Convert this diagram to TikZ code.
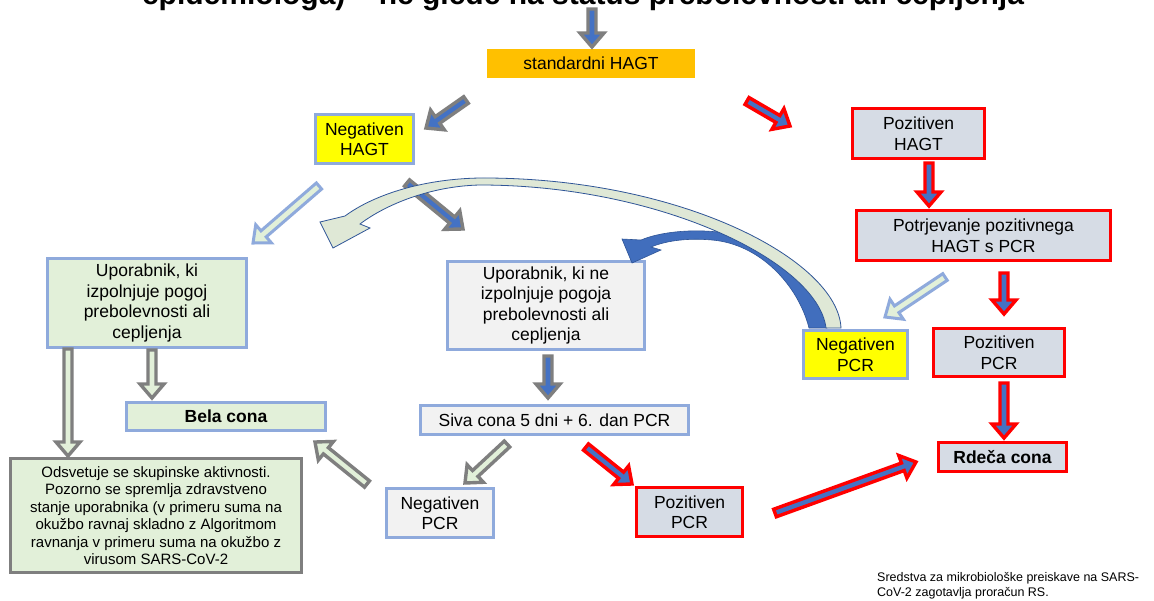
\documentclass[tikz,border=0pt]{standalone}
\usepackage{fontspec}
\setmainfont{Liberation Sans}
\usetikzlibrary{calc}
\definecolor{orng}{HTML}{FFC000}
\definecolor{ylw}{HTML}{FFFF00}
\definecolor{lblue}{HTML}{8FAADC}
\definecolor{rd}{HTML}{FF0000}
\definecolor{redfill}{HTML}{D6DCE5}
\definecolor{grnfill}{HTML}{E2F0D9}
\definecolor{gryfill}{HTML}{F2F2F2}
\definecolor{dgray}{HTML}{7F7F7F}
\definecolor{mblue}{HTML}{4472C4}
\definecolor{nblue}{HTML}{2F5597}
\definecolor{palegrn}{HTML}{DFE8D6}
\newcommand{\blockarrow}[3][]{%
  \coordinate (bh) at ($(#3)!14pt!(#2)$);
  \path[#1] ($(#2)!4pt!90:(#3)$) -- ($(bh)!4pt!90:(#3)$) -- ($(bh)!12pt!90:(#3)$) -- (#3)
    -- ($(bh)!12pt!-90:(#3)$) -- ($(bh)!4pt!-90:(#3)$) -- ($(#2)!4pt!-90:(#3)$) -- cycle;}
\tikzset{
  bx/.style={inner sep=0pt, align=center, font=\fontsize{17.5}{20.5}\selectfont, line width=3pt},
  bluebox/.style={bx, draw=lblue},
  redbox/.style={bx, draw=rd, fill=redfill},
  gb/.style={draw=dgray, fill=mblue, line width=3.4pt},
  rb/.style={draw=rd, fill=mblue, line width=3.4pt},
  pl/.style={draw=lblue, fill=grnfill, line width=3pt},
  pg/.style={draw=dgray, fill=grnfill, line width=3.4pt},
}
\begin{document}
\begin{tikzpicture}[x=1pt,y=-1pt]
\useasboundingbox (0,0) rectangle (1154,600);
\clip (0,0) rectangle (1154,600);
\fill[white] (0,0) rectangle (1154,600);
% title, cut off at the top edge as in the reference
\node[anchor=base, inner sep=0pt, font=\bfseries\fontsize{30}{34}\selectfont] (title) at (583,4.5) {epidemiologa) – ne glede na status prebolevnosti ali cepljenja};
% boxes
\node[bx, fill=orng, minimum width=208pt, minimum height=29pt] (std) at (591,63.5) {standardni HAGT};
\node[bluebox, fill=ylw, minimum width=98pt, minimum height=49pt] (negH) at (364.5,139) {Negativen\\HAGT};
\node[redbox, minimum width=132pt, minimum height=50pt] (posH) at (918.5,133.5) {Pozitiven\\HAGT};
\node[redbox, minimum width=254pt, minimum height=50pt] (potr) at (983.5,235.5) {Potrjevanje pozitivnega\\HAGT s PCR};
\node[bluebox, fill=ylw, minimum width=104pt, minimum height=48pt] (negP1) at (855.5,354.5) {Negativen\\PCR};
\node[redbox, minimum width=131pt, minimum height=48pt] (posP1) at (999,352.5) {Pozitiven\\PCR};
\node[redbox, minimum width=128pt, minimum height=29pt, font=\bfseries\fontsize{17.5}{20.5}\selectfont] (rdeca) at (1002.5,457) {Rdeča cona};
\node[bluebox, fill=grnfill, minimum width=199pt, minimum height=89pt] (upor1) at (147,303) {Uporabnik, ki\\izpolnjuje pogoj\\prebolevnosti ali\\cepljenja};
\node[bluebox, fill=grnfill, minimum width=199pt, minimum height=28pt, font=\bfseries\fontsize{17.5}{20.5}\selectfont] (bela) at (226,416.5) {Bela cona};
\node[bx, draw=dgray, fill=grnfill, minimum width=291pt, minimum height=114pt, font=\fontsize{15}{17.5}\selectfont] (odsv) at (156,515.5) {Odsvetuje se skupinske aktivnosti.\\Pozorno se spremlja zdravstveno\\stanje uporabnika (v primeru suma na\\okužbo ravnaj skladno z Algoritmom\\ravnanja v primeru suma na okužbo z\\virusom SARS-CoV-2};
\node[bluebox, fill=gryfill, minimum width=197pt, minimum height=88pt] (upor2) at (546,305.5) {Uporabnik, ki ne\\izpolnjuje pogoja\\prebolevnosti ali\\cepljenja};
\node[bluebox, fill=gryfill, minimum width=268pt, minimum height=29pt] (siva) at (554.5,420) {Siva cona 5 dni + 6. dan PCR};
\node[bluebox, fill=gryfill, minimum width=107pt, minimum height=49pt] (negP2) at (440,513) {Negativen\\PCR};
\node[redbox, minimum width=106pt, minimum height=49pt] (posP2) at (689.5,512) {Pozitiven\\PCR};
\node[anchor=north west, inner sep=0pt, align=left, font=\fontsize{12.5}{15}\selectfont] (foot) at (877,572) {Sredstva za mikrobiološke preiskave na SARS-\\CoV-2 zagotavlja proračun RS.};
% arrow end points
\coordinate (a1s) at (592,9);   \coordinate (a1e) at (592,47);
\coordinate (a2s) at (466,100); \coordinate (a2e) at (426,128);
\coordinate (a3s) at (747,101); \coordinate (a3e) at (790,126);
\coordinate (a4s) at (407,183); \coordinate (a4e) at (463,229);
\coordinate (a5s) at (319,186); \coordinate (a5e) at (253,243);
\coordinate (a6s) at (929,163); \coordinate (a6e) at (929,206);
\coordinate (a7s) at (1004,273); \coordinate (a7e) at (1004,314);
\coordinate (a8s) at (1004,383); \coordinate (a8e) at (1004,438);
\coordinate (a9s) at (945,277); \coordinate (a9e) at (885,317);
\coordinate (a10s) at (548,356); \coordinate (a10e) at (548,398);
\coordinate (a11s) at (507,444); \coordinate (a11e) at (465,483);
\coordinate (a12s) at (586,447); \coordinate (a12e) at (632,484);
\coordinate (a13s) at (775,513); \coordinate (a13e) at (916,462);
\coordinate (a14s) at (367,484); \coordinate (a14e) at (315,442);
\coordinate (a15s) at (152,350); \coordinate (a15e) at (152,398);
\coordinate (a16s) at (68,349); \coordinate (a16e) at (68,456);
\blockarrow[gb]{a1s}{a1e}
\blockarrow[gb]{a2s}{a2e}
\blockarrow[rb]{a3s}{a3e}
\blockarrow[gb]{a4s}{a4e}
\blockarrow[pl]{a5s}{a5e}
\blockarrow[rb]{a6s}{a6e}
\blockarrow[rb]{a7s}{a7e}
\blockarrow[rb]{a8s}{a8e}
\blockarrow[pl]{a9s}{a9e}
\blockarrow[gb]{a10s}{a10e}
\blockarrow[pg]{a11s}{a11e}
\blockarrow[rb]{a12s}{a12e}
\blockarrow[rb]{a13s}{a13e}
\blockarrow[pg]{a14s}{a14e}
\blockarrow[pg]{a15s}{a15e}
\blockarrow[pg]{a16s}{a16e}
% curved blue arrow (Negativen PCR -> Uporabnik ki ne)
\path[fill=mblue!85!nblue, draw=nblue, line width=0.6pt]
  (827,328) .. controls (817,275) and (775,238) .. (718,232)
  .. controls (690,229) and (660,232) .. (641,240)
  -- (622,239) -- (632,263) -- (661,250) -- (651,247)
  .. controls (668,240) and (690,238) .. (712,240)
  .. controls (760,244) and (798,285) .. (809,328) -- cycle;
% curved pale arrow (Negativen PCR -> Uporabnik ki izpolnjuje)
\path[fill=palegrn, draw=nblue, line width=0.8pt]
  (841,328) .. controls (838,260) and (680,177) .. (480,178)
  .. controls (420,179) and (372,196) .. (345,216)
  -- (320,222) -- (333,248) -- (370,228) -- (360,224)
  .. controls (385,205) and (430,186) .. (480,185)
  .. controls (660,185) and (818,262) .. (826,328) -- cycle;
\end{tikzpicture}
\end{document}
